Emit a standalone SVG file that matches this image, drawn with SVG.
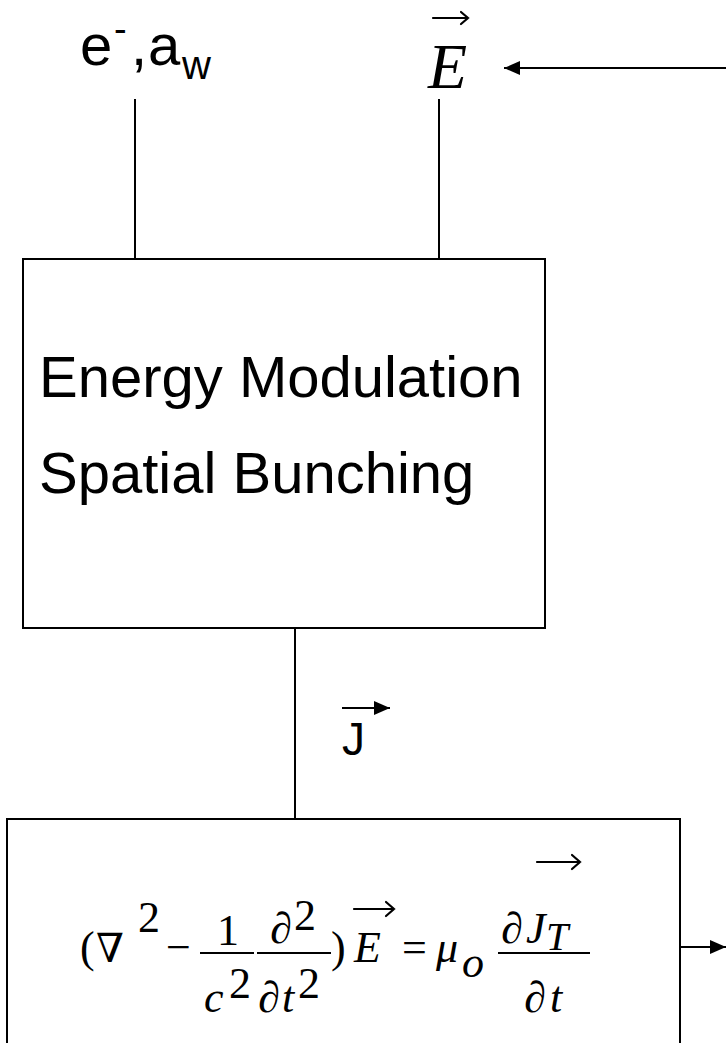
<svg xmlns="http://www.w3.org/2000/svg" width="726" height="1043" viewBox="0 0 726 1043">
<style>
.box{fill:#fff;stroke:#000;stroke-width:2}
.ln{stroke:#000;stroke-width:2;fill:none}
.sans{font-family:"Liberation Sans",Arial,sans-serif;fill:#000}
.serif{font-family:"Liberation Serif","Times New Roman",serif;fill:#000}
.sym{font-family:"DejaVu Serif","Liberation Serif",serif;fill:#000}
.it{font-style:italic}
.vec{stroke:#000;stroke-width:2.2;fill:none;stroke-linecap:round}
</style>
<defs>
<marker id="triBig" viewBox="0 0 10 10" refX="10" refY="5" markerWidth="16" markerHeight="14" markerUnits="userSpaceOnUse" orient="auto" preserveAspectRatio="none">
<path d="M0,0 L10,5 L0,10 Z" fill="#000"/>
</marker>
</defs>
<rect width="726" height="1043" fill="#fff"/>

<g id="connectors">
<line class="ln" x1="135" y1="99" x2="135" y2="259"/>
<line class="ln" x1="439" y1="99" x2="439" y2="259"/>
<line class="ln" x1="726" y1="68" x2="504" y2="68" marker-end="url(#triBig)"/>
<line class="ln" x1="295" y1="628" x2="295" y2="819"/>
<line class="ln" x1="680" y1="947" x2="726" y2="947" marker-end="url(#triBig)"/>
</g>

<g id="input-electrons">
<text class="sans" y="65"><tspan x="80" font-size="58">e</tspan><tspan x="114" y="42" font-size="38">-</tspan><tspan x="131" y="65" font-size="58">,</tspan><tspan x="148" y="65" font-size="58">a</tspan><tspan x="182" y="79" font-size="40">w</tspan></text>
</g>

<g id="input-field">
<path class="vec" d="M433,18 H468 M461,12 L468,18 L461,24"/>
<text class="serif it" x="428" y="88" font-size="64">E</text>
</g>

<g id="energy-modulation">
<rect class="box" x="23" y="259" width="522" height="369"/>
<text class="sans" x="39" y="397" font-size="58">Energy Modulation</text>
<text class="sans" x="39" y="493" font-size="58">Spatial Bunching</text>
</g>

<g id="current-label">
<line class="ln" x1="342" y1="708" x2="390" y2="708" marker-end="url(#triBig)"/>
<text class="sans" x="342" y="755" font-size="46">J</text>
</g>

<g id="wave-equation">
<rect class="box" x="7" y="819" width="673" height="240"/>
<g class="serif" font-size="44">
<text x="80" y="962">(</text>
<text class="sym" x="96" y="962" font-size="40">∇</text>
<text x="138" y="932">2</text>
<text x="166" y="962">−</text>
<line class="ln" x1="200" y1="953" x2="254" y2="953" stroke-width="1.6"/>
<text x="217" y="945">1</text>
<text class="it" x="204" y="1012">c</text>
<text x="229" y="998">2</text>
<line class="ln" x1="257" y1="953" x2="331" y2="953" stroke-width="1.6"/>
<text x="270" y="943">∂</text>
<text x="294" y="930">2</text>
<text x="258" y="1012">∂</text>
<text class="it" x="282" y="1012">t</text>
<text x="298" y="998">2</text>
<text x="331" y="962">)</text>
<path class="vec" d="M354,909 H394 M386,902 L394,909 L386,916"/>
<text class="it" x="354" y="962">E</text>
<text x="402" y="962">=</text>
<text class="it" x="436" y="962">μ</text>
<text class="it" x="462" y="977">o</text>
<line class="ln" x1="498" y1="953" x2="590" y2="953" stroke-width="1.6"/>
<text x="501" y="943">∂</text>
<text class="it" x="526" y="943">J</text>
<path class="vec" d="M537,862 H580 M572,855 L580,862 L572,869"/>
<text class="it" x="546" y="950" font-size="40">T</text>
<text x="524" y="1012">∂</text>
<text class="it" x="550" y="1012">t</text>
</g>
</g>
</svg>
